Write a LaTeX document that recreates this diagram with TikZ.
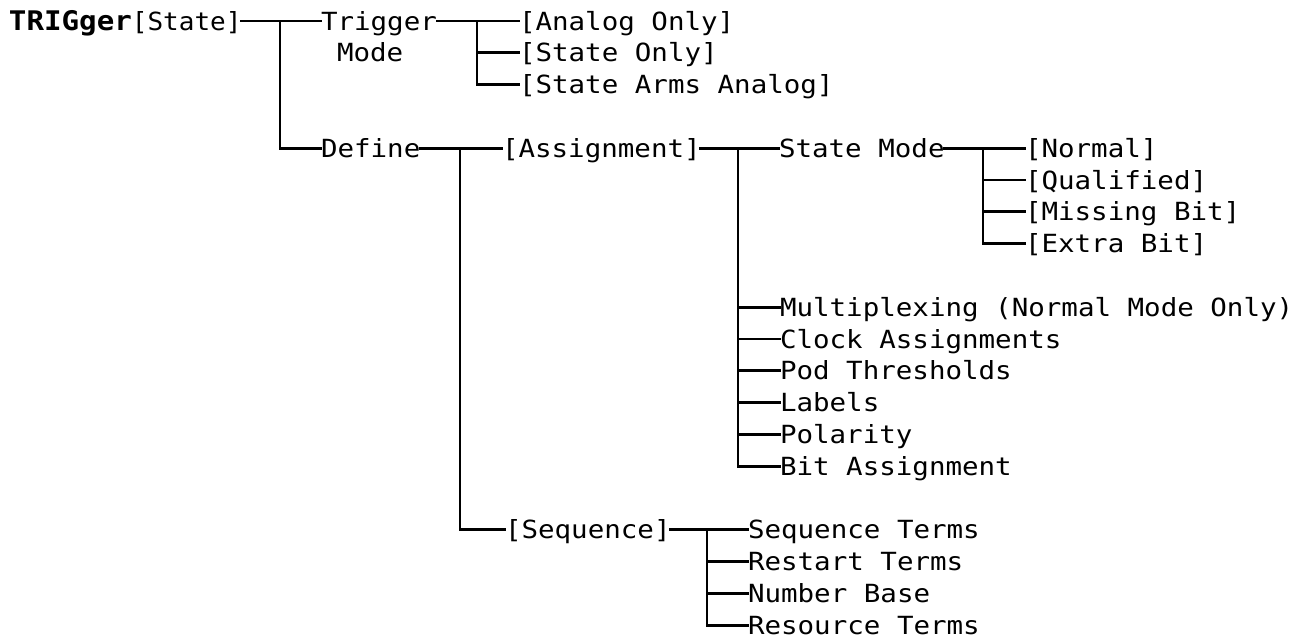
\documentclass[tikz,border=0pt]{standalone}
\usepackage{fontspec}
\newfontfamily\lgfont[FakeStretch=1.1]{DejaVu Sans Mono}
\newfontfamily\lghead[FakeStretch=1.04]{DejaVu Sans Mono}
\newfontfamily\lgbold[FakeStretch=1.08]{DejaVu Sans Mono Bold}
\begin{document}
\begin{tikzpicture}[x=0.5pt,y=-0.5pt,
  lbl/.style={anchor=west,inner sep=0pt,outer sep=0pt,text height=9.1pt,text depth=0pt,
    font=\lgfont\fontsize{12.5}{14}\selectfont},
  headlbl/.style={lbl,font=\lghead\fontsize{12.5}{14}\selectfont},
  boldlbl/.style={anchor=west,inner sep=0pt,outer sep=0pt,text height=9.8pt,text depth=0pt,
    font=\lgbold\fontsize{13.5}{15}\selectfont},
  wire/.style={line width=1.4pt,line cap=rect}]
\useasboundingbox (0,0) rectangle (1301,641);
% rows: y = 21 + 31.8k
\node[boldlbl] (trig) at (9,21) {TRIGger};
\node[headlbl] (state) at (trig.east) {[State]};
\node[lbl] (tm) at (321,21) {Trigger};
\node[lbl] (tm2) at (337,52.8) {Mode};
\node[lbl] (ao) at (519,21) {[Analog Only]};
\node[lbl] (so) at (519,52.8) {[State Only]};
\node[lbl] (saa) at (519,84.6) {[State Arms Analog]};
\node[lbl] (def) at (321,148.2) {Define};
\node[lbl] (asg) at (502,148.2) {[Assignment]};
\node[lbl] (sm) at (779,148.2) {State Mode};
\node[lbl] (nor) at (1025,148.2) {[Normal]};
\node[lbl] (qual) at (1025,180) {[Qualified]};
\node[lbl] (miss) at (1025,211.8) {[Missing Bit]};
\node[lbl] (extra) at (1025,243.6) {[Extra Bit]};
\node[lbl] (mux) at (780,307.2) {Multiplexing (Normal Mode Only)};
\node[lbl] (clk) at (780,339) {Clock Assignments};
\node[lbl] (pod) at (780,370.8) {Pod Thresholds};
\node[lbl] (lab) at (780,402.6) {Labels};
\node[lbl] (pol) at (780,434.4) {Polarity};
\node[lbl] (bit) at (780,466.2) {Bit Assignment};
\node[lbl] (seq) at (505,529.8) {[Sequence]};
\node[lbl] (st) at (748,529.8) {Sequence Terms};
\node[lbl] (rt) at (748,561.6) {Restart Terms};
\node[lbl] (nb) at (748,593.4) {Number Base};
\node[lbl] (res) at (748,625.2) {Resource Terms};
% junctions
\coordinate (j1) at (280,21);
\coordinate (j2) at (477,21);
\coordinate (j3) at (460,148.2);
\coordinate (j4) at (738,148.2);
\coordinate (j5) at (983,148.2);
\coordinate (j6) at (707,529.8);
% connectors
\draw[wire] (state.east) -- (tm.west);
\draw[wire] (j1) |- (def.west);
\draw[wire] (tm.east) -- (ao.west);
\draw[wire] (j2) |- (so.west);
\draw[wire] (j2) |- (saa.west);
\draw[wire] (def.east) -- (asg.west);
\draw[wire] (j3) |- (seq.west);
\draw[wire] (asg.east) -- (sm.west);
\foreach \n in {mux,clk,pod,lab,pol,bit} \draw[wire] (j4) |- (\n.west);
\draw[wire] (sm.east) -- (nor.west);
\foreach \n in {qual,miss,extra} \draw[wire] (j5) |- (\n.west);
\draw[wire] (seq.east) -- (st.west);
\foreach \n in {rt,nb,res} \draw[wire] (j6) |- (\n.west);
\end{tikzpicture}
\end{document}
